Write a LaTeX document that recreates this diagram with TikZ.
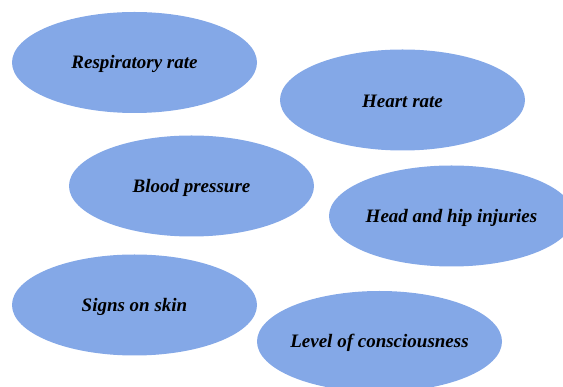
\documentclass[tikz,border=0pt]{standalone}
\usepackage{fontspec}
\setmainfont{Liberation Serif}
\usetikzlibrary{shapes.geometric}

\definecolor{bubbleblue}{RGB}{132,168,231}

\tikzset{
  bubble/.style={ellipse, fill=bubbleblue, draw=none, inner sep=0pt,
    minimum width=245pt, minimum height=101pt},
  bubbletext/.style={font=\fontsize{19}{21}\selectfont\bfseries\itshape,
    text=black, yshift=-1.5pt}
}

\begin{document}
\begin{tikzpicture}[x=1pt, y=-1pt]

% -----------------------
% Canvas
% -----------------------
\useasboundingbox (0,0) rectangle (563,387);

% -----------------------
% Left column
% -----------------------
\node[bubble] (resp)  at (134.5, 62.5) {};
\node[bubble] (blood) at (191.5,186.0) {};
\node[bubble] (skin)  at (134.5,305.0) {};

% -----------------------
% Right column
% -----------------------
\node[bubble] (heart) at (402.5,100.0) {};
\node[bubble] (head)  at (451.5,216.0) {};
\node[bubble] (level) at (379.5,341.5) {};

% -----------------------
% Labels
% -----------------------
\node[bubbletext] (resplabel)  at (resp)  {Respiratory rate};
\node[bubbletext] (bloodlabel) at (blood) {Blood pressure};
\node[bubbletext] (skinlabel)  at (skin)  {Signs on skin};
\node[bubbletext] (heartlabel) at (heart) {Heart rate};
\node[bubbletext] (headlabel)  at (head)  {Head and hip injuries};
\node[bubbletext] (levellabel) at (level) {Level of consciousness};

\end{tikzpicture}
\end{document}
